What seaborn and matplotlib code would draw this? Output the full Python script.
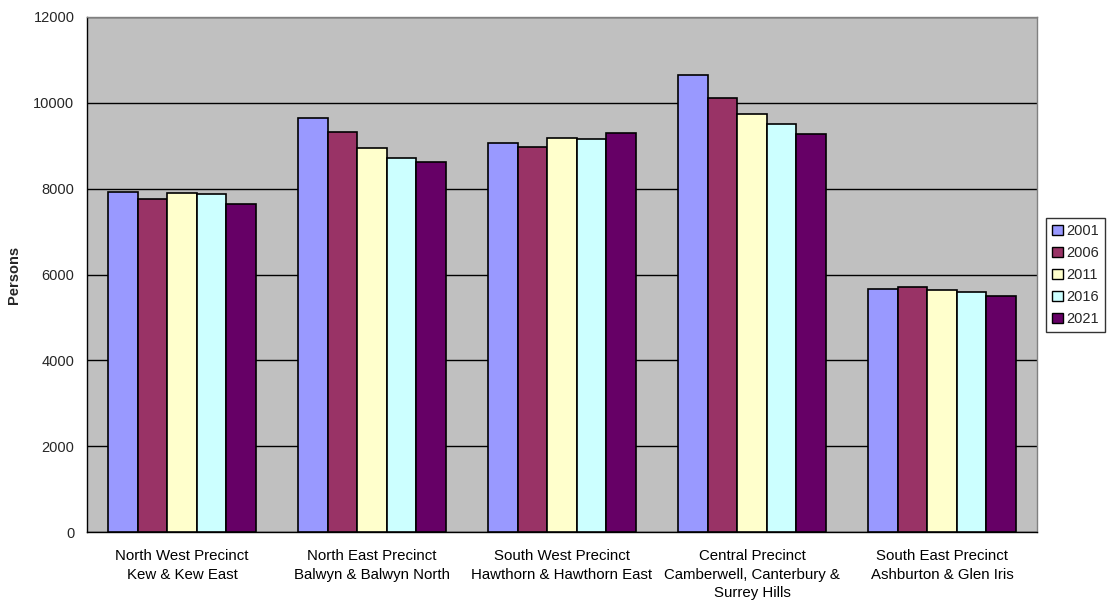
import matplotlib
matplotlib.use("Agg")
import matplotlib.pyplot as plt
import seaborn as sns
import pandas as pd
from matplotlib.patches import Patch

precincts = [
    "North West Precinct\nKew & Kew East",
    "North East Precinct\nBalwyn & Balwyn North",
    "South West Precinct\nHawthorn & Hawthorn East",
    "Central Precinct\nCamberwell, Canterbury &\nSurrey Hills",
    "South East Precinct\nAshburton & Glen Iris",
]
years = ["2001", "2006", "2011", "2016", "2021"]
pop_2001 = [7920, 9654, 9055, 10642, 5662]
pop_2006 = [7756, 9311, 8962, 10105, 5716]
pop_2011 = [7903, 8953, 9172, 9748, 5646]
pop_2016 = [7880, 8720, 9164, 9498, 5585]
pop_2021 = [7647, 8611, 9288, 9281, 5498]
year_colors = ["#9999FF", "#993366", "#FFFFCC", "#CCFFFF", "#660066"]

series = [pop_2001, pop_2006, pop_2011, pop_2016, pop_2021]
rows = []
for yr, vals in zip(years, series):
    for p, v in zip(precincts, vals):
        rows.append({"Precinct": p, "Year": yr, "Persons": v})
df = pd.DataFrame(rows)

sns.set_style("white")
plt.rcParams["font.family"] = ["Liberation Sans", "DejaVu Sans"]

FS = 10.5

fig = plt.figure(figsize=(11.07, 6.01), dpi=100)
ax = fig.add_axes([87 / 1107, 69 / 601, 950 / 1107, 515 / 601])
ax.set_facecolor("#C0C0C0")

sns.barplot(data=df, x="Precinct", y="Persons", hue="Year", order=precincts,
            hue_order=years, palette=year_colors, width=0.775, gap=0,
            edgecolor="black", linewidth=1.2, saturation=1, errorbar=None,
            legend=False, ax=ax, zorder=3)

ax.set_ylim(0, 12000)
ax.set_xlim(-0.5, len(precincts) - 0.5)
ax.set_yticks(range(0, 12001, 2000))
ax.yaxis.grid(True, color="black", linewidth=1, zorder=1)
ax.set_axisbelow(True)

# category boundary ticks on the x axis
ax.set_xticks([i - 0.5 for i in range(len(precincts) + 1)], minor=True)
ax.tick_params(axis="x", which="major", length=0, labelsize=10.8, pad=12.5, colors="black")
ax.tick_params(axis="x", which="minor", length=5, width=1, color="black", direction="out")
ax.tick_params(axis="y", which="major", length=5, width=1, color="black", direction="out",
               labelsize=FS, pad=4)
ax.set_xticks(range(len(precincts)))
ax.set_xticklabels(precincts, linespacing=1.38)

for side in ["top", "right"]:
    ax.spines[side].set_visible(True)
    ax.spines[side].set_color("#808080")
    ax.spines[side].set_linewidth(1)
for side in ["left", "bottom"]:
    ax.spines[side].set_color("black")
    ax.spines[side].set_linewidth(1)

ax.set_xlabel("")
ax.set_ylabel("Persons", fontsize=FS, fontweight="bold", labelpad=9)

handles = [Patch(facecolor=c, edgecolor="black", linewidth=1) for c in year_colors]
leg = fig.legend(handles, years, loc="center left",
                 bbox_to_anchor=(1046 / 1107, (601 - 275) / 601),
                 frameon=True, fontsize=FS, handlelength=0.75, handleheight=0.75,
                 handletextpad=0.25, labelspacing=0.55, borderpad=0.4,
                 borderaxespad=0, fancybox=False)
leg.get_frame().set_edgecolor("black")
leg.get_frame().set_linewidth(1)

fig.savefig("out.png", dpi=100, facecolor="white")
